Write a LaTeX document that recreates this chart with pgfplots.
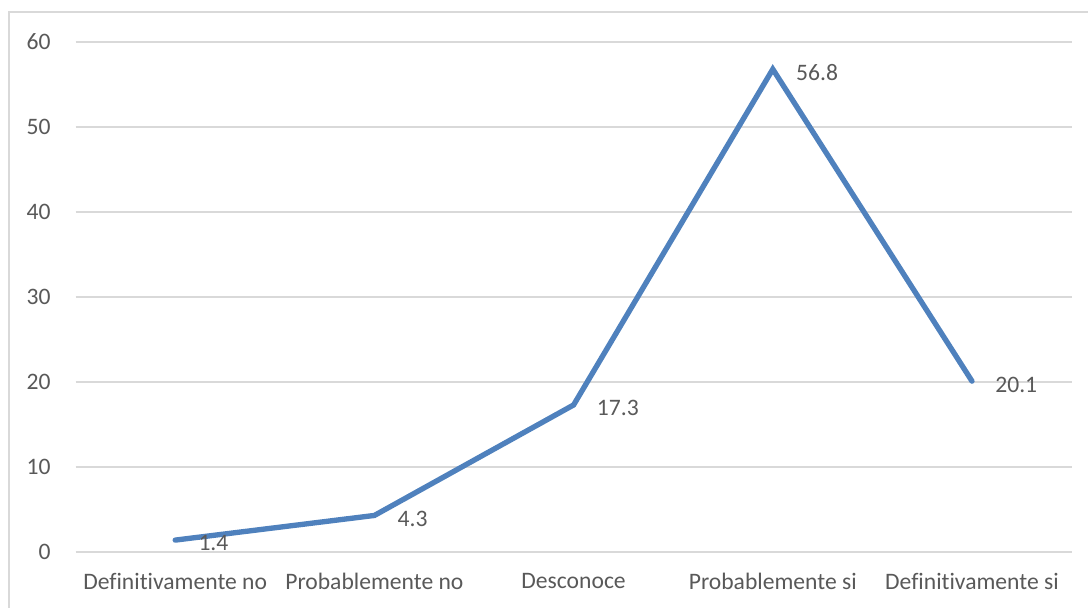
\documentclass[border=0pt]{standalone}
\usepackage{pgfplots}
\pgfplotsset{compat=1.18}
\usepackage{fontspec}
\setmainfont[Ligatures=NoCommon]{Carlito}
\definecolor{txt}{HTML}{595959}
\definecolor{grid}{HTML}{D9D9D9}
\definecolor{serie}{HTML}{4F81BD}
\begin{document}
\begin{tikzpicture}
\useasboundingbox (-56.7pt,-41.25pt) rectangle (759.3pt,414pt);
\draw[grid, line width=1.2pt] (-49.95pt,-80pt) -- (-49.95pt,405pt) -- (800pt,405pt);
\begin{axis}[
  at={(0pt,0pt)}, anchor=south west,
  scale only axis,
  width=747pt, height=382.5pt,
  xmin=-0.5, xmax=4.5,
  ymin=0, ymax=60,
  ytick={0,10,...,60},
  xtick={0,1,2,3,4},
  xticklabels={Definitivamente no, Probablemente no, Desconoce, Probablemente si, Definitivamente si},
  axis line style={draw=none},
  xmajorgrids=false,
  ymajorgrids=true,
  y grid style={grid, line width=1.5pt},
  major tick length=0pt,
  tick style={draw=none},
  font=\fontsize{17.7pt}{21pt}\selectfont,
  tick label style={txt},
  /pgf/number format/assume math mode=true,
  yticklabel style={inner sep=0pt, xshift=-18.5pt},
  xticklabel style={inner sep=0pt, yshift=-16pt},
  clip=false,
  nodes near coords,
  point meta=explicit symbolic,
  every node near coord/.append style={txt, anchor=west, inner sep=0pt, xshift=15.5pt, yshift=-2.5pt},
]
\addplot[serie, line width=4pt, line cap=round, line join=miter, mark=none]
  coordinates {(0,1.4)[1.4] (1,4.3)[4.3] (2,17.3)[17.3] (3,56.8)[56.8] (4,20.1)[20.1]};
\end{axis}
\end{tikzpicture}
\end{document}
